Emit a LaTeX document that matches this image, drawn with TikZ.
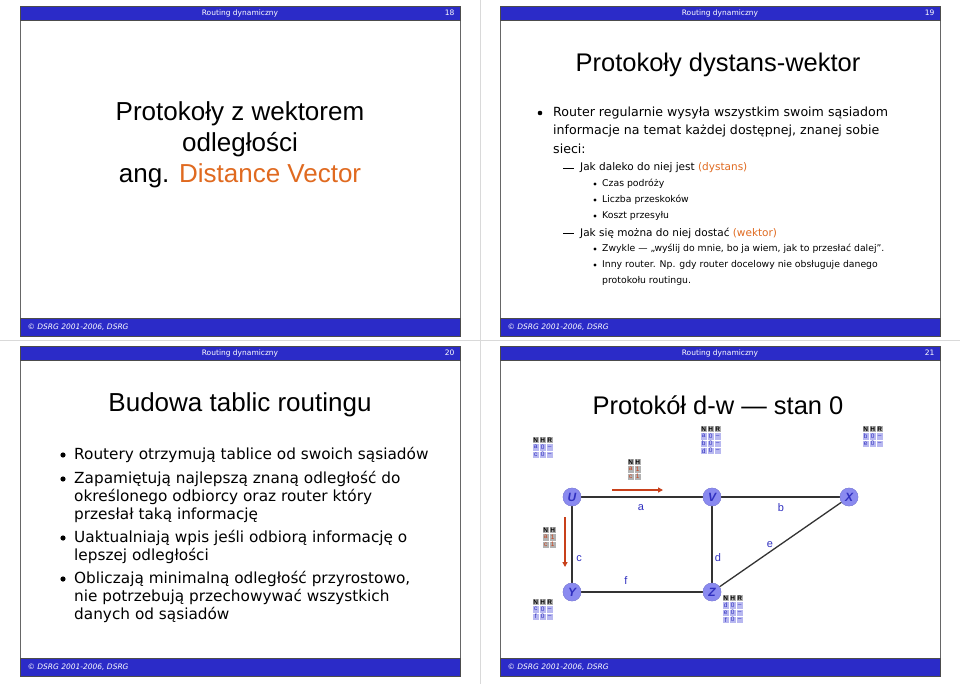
\documentclass[tikz,border=0pt]{standalone}
\usepackage{fontspec}
\setmainfont{Liberation Sans}
\newfontfamily\tah{DejaVu Sans}
\usetikzlibrary{arrows.meta}
\definecolor{bar}{HTML}{2B2BC8}
\definecolor{orng}{HTML}{E06A20}
\definecolor{cellb}{HTML}{B8B8F0}
\definecolor{celltxt}{HTML}{3030C0}
\definecolor{nodef}{HTML}{8A8AF0}
\definecolor{redt}{HTML}{C8401A}
\tikzset{
 slidebar/.style={fill=bar,draw=black!70,line width=0.6pt},
 bartxt/.style={text=white,font=\tah\fontsize{7.5}{8}\selectfont},
 foot/.style={text=white,font=\tah\itshape\fontsize{7.5}{8}\selectfont,anchor=west},
 vtx/.style={circle,fill=nodef,draw=celltxt!60,minimum size=18pt,inner sep=0pt,font=\bfseries\itshape\fontsize{12}{12}\selectfont,text=celltxt},
 elab/.style={font=\fontsize{11}{12}\selectfont,text=celltxt},
 edge/.style={line width=1.8pt,draw=black!80},
 msg/.style={-{Triangle[length=5pt,width=5pt]},draw=redt,line width=1.5pt},
 cell/.style={draw=white,line width=0.4pt,minimum width=7pt,minimum height=7.3pt,inner sep=0pt,font=\fontsize{6.5}{6.5}\selectfont},
 txt/.style={anchor=west,inner sep=0pt},
}
\newcommand\btab[3]{%
 \node[cell,fill=gray!60,anchor=north west] at (#1,#2) {\textbf{N}};
 \node[cell,fill=gray!60,anchor=north west] at (#1+7,#2) {\textbf{H}};
 \node[cell,fill=gray!60,anchor=north west] at (#1+14,#2) {\textbf{R}};
 \foreach \r [count=\i] in {#3}{
  \node[cell,fill=cellb,text=celltxt,anchor=north west] at (#1,#2+7.3*\i) {\r};
  \node[cell,fill=cellb,text=celltxt,anchor=north west] at (#1+7,#2+7.3*\i) {0};
  \node[cell,fill=cellb,text=celltxt,anchor=north west] at (#1+14,#2+7.3*\i) {–};
 }}
\newcommand\otab[2]{%
 \node[cell,fill=gray!60,anchor=north west] at (#1,#2) {\textbf{N}};
 \node[cell,fill=gray!60,anchor=north west] at (#1+7,#2) {\textbf{H}};
 \foreach \r [count=\i] in {a,c}{
  \node[cell,fill=gray!60,text=redt,anchor=north west] at (#1,#2+7.3*\i) {\r};
  \node[cell,fill=gray!60,text=redt,anchor=north west] at (#1+7,#2+7.3*\i) {1};
 }}
\begin{document}
\begin{tikzpicture}[x=1pt,y=-1pt]
\useasboundingbox (0,0) rectangle (960,684);
\fill[white] (0,0) rectangle (960,684);
\draw[gray!30] (0,340) -- (960,340) (480,0) -- (480,684);
\foreach \x/\y/\n in {20/6/18,500/6/19,20/346/20,500/346/21}{
 \draw[black!60,line width=0.6pt] (\x,\y) rectangle (\x+440,\y+330);
 \draw[slidebar] (\x,\y) rectangle (\x+440,\y+14);
 \node[bartxt] at (\x+220,\y+7) {Routing dynamiczny};
 \node[bartxt,anchor=east] at (\x+438,\y+7) {\n};
 \draw[slidebar] (\x,\y+312) rectangle (\x+440,\y+330);
 \node[foot] at (\x+4,\y+321) {© DSRG 2001-2006, DSRG};
}
% slide 18
\node[font=\fontsize{26}{31}\selectfont,align=center] (t18) at (240,145) {Protokoły z wektorem\\odległości\\ang. \textcolor{orng}{Distance Vector}};
% slide 19
\node[font=\fontsize{25.5}{28}\selectfont] (t19) at (718,65) {Protokoły dystans-wektor};
\begin{scope}[font=\tah\fontsize{12.6}{12}\selectfont]
\fill (540,113) circle (2.3pt);
\node[txt] at (553,113) {Router regularnie wysyła wszystkim swoim sąsiadom};
\node[txt] at (553,131) {informacje na temat każdej dostępnej, znanej sobie};
\node[txt] at (553,149) {sieci:};
\end{scope}
\begin{scope}[font=\tah\fontsize{10.5}{10}\selectfont]
\draw[line width=0.7pt] (563,168) -- (574,168);
\node[txt] at (580,168) {Jak daleko do niej jest \textcolor{orng}{(dystans)}};
\draw[line width=0.7pt] (563,233) -- (574,233);
\node[txt] at (580,233) {Jak się można do niej dostać \textcolor{orng}{(wektor)}};
\end{scope}
\begin{scope}[font=\tah\fontsize{9.3}{9}\selectfont]
\foreach \y/\t in {184/Czas podróży,200/Liczba przeskoków,216/Koszt przesyłu,249/Zwykle — „wyślij do mnie{,} bo ja wiem{,} jak to przesłać dalej”.,265/Inny router. Np. gdy router docelowy nie obsługuje danego}{
 \fill (595,\y) circle (1.7pt);
 \node[txt] at (602,\y) {\t};}
\node[txt] at (602,281) {protokołu routingu.};
\end{scope}
% slide 20
\node[font=\fontsize{26}{30}\selectfont] (t20) at (240,405) {Budowa tablic routingu};
\begin{scope}[font=\tah\fontsize{15.3}{14}\selectfont]
\foreach \y in {455,479,538,579}{\fill (63,\y) circle (2.6pt);}
\foreach \y/\t in {455/Routery otrzymują tablice od swoich sąsiadów,479/Zapamiętują najlepszą znaną odległość do,497/określonego odbiorcy oraz router który,515/przesłał taką informację,538/Uaktualniają wpis jeśli odbiorą informację o,556/lepszej odległości,579/Obliczają minimalną odległość przyrostowo{,},597/nie potrzebują przechowywać wszystkich,615/danych od sąsiadów}{
 \node[txt] at (74,\y) {\t};}
\end{scope}
% slide 21
\node[font=\fontsize{25.5}{28}\selectfont] (t21) at (718,405) {Protokół d-w — stan 0};
\node[vtx] (U) at (572,497) {U};
\node[vtx] (V) at (712,497) {V};
\node[vtx] (X) at (849,497) {X};
\node[vtx] (Y) at (572,592) {Y};
\node[vtx] (Z) at (712,592) {Z};
\draw[edge] (U) -- (V); \draw[edge] (V) -- (X); \draw[edge] (U) -- (Y);
\draw[edge] (Y) -- (Z); \draw[edge] (V) -- (Z); \draw[edge,line width=1.3pt] (Z) -- (X);
\node[vtx] at (U) {U}; \node[vtx] at (V) {V}; \node[vtx] at (X) {X};
\node[vtx] at (Y) {Y}; \node[vtx] at (Z) {Z};
\node[elab] at (641,508) {a};
\node[elab] at (781,508) {b};
\node[elab] at (579,559) {c};
\node[elab] at (718,558) {d};
\node[elab] at (770,545) {e};
\node[elab] at (626,581) {f};
\coordinate (m1s) at (612,490); \coordinate (m1e) at (663,490);
\coordinate (m2s) at (565,517); \coordinate (m2e) at (565,567);
\draw[msg] (m1s) -- (m1e);
\draw[msg] (m2s) -- (m2e);
\btab{532}{436}{a,c}
\btab{700}{425}{a,b,d}
\btab{862}{425}{b,e}
\btab{532}{598}{c,f}
\btab{722}{594}{d,e,f}
\otab{627}{458}
\otab{542}{526}
\end{tikzpicture}
\end{document}
